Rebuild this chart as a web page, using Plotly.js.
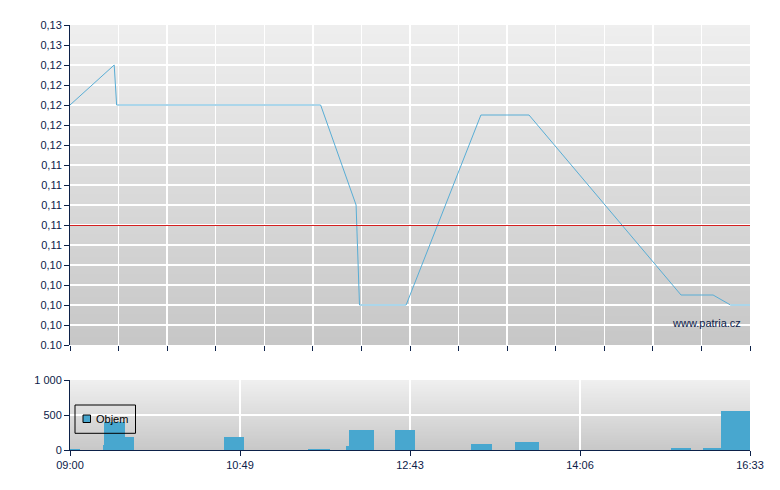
<!DOCTYPE html>
<html><head><meta charset="utf-8">
<script src="https://cdn.plot.ly/plotly-3.0.1.min.js"></script>
<style>html,body{margin:0;padding:0;background:#fff}#chart{width:780px;height:490px}</style>
</head><body><div id="chart"></div>
<script>
// Price line (x in grid-column units 0..14, y price)
const priceX = [0, 0.91, 0.96, 5.16, 5.89, 5.96, 6.92, 8.46, 9.45, 12.58, 13.24, 13.60, 14];
const priceY = [0.120, 0.124, 0.120, 0.120, 0.110, 0.100, 0.100, 0.119, 0.119, 0.101, 0.101, 0.100, 0.100];
const prevClose = 0.108;

// Volume bars: interval start/end and volume
const volStart = [0, 0.679, 0.706, 1.132, 3.171, 4.900, 5.682, 5.750, 6.691, 8.256, 9.162, 12.374, 13.033, 13.403];
const volEnd   = [0.206, 0.706, 1.132, 1.318, 3.582, 5.353, 5.750, 6.259, 7.103, 8.688, 9.656, 12.785, 13.403, 14];
const volume   = [15, 70, 405, 190, 190, 15, 60, 290, 290, 90, 120, 33, 33, 560];

// Tick labels
const priceTickVals = [0.096,0.098,0.100,0.102,0.104,0.106,0.108,0.110,0.112,0.114,0.116,0.118,0.120,0.122,0.124,0.126,0.128];
const priceTickText = ['0.10','0,10','0,10','0,10','0,10','0,11','0,11','0,11','0,11','0,11','0,12','0,12','0,12','0,12','0,12','0,13','0,13'];
const timeTickVals = [0, 3.5, 7, 10.5, 14];
const timeTickText = ['09:00','10:49','12:43','14:06','16:33'];
const volTickVals = [0, 500, 1000];
const volTickText = ['0','500','1 000'];

function gradient(top, bottom){
  const c = document.createElement('canvas'); c.width = 2; c.height = 256;
  const g = c.getContext('2d'); const gr = g.createLinearGradient(0,0,0,256);
  gr.addColorStop(0, top); gr.addColorStop(1, bottom);
  g.fillStyle = gr; g.fillRect(0,0,2,256); return c.toDataURL('image/png');
}
const navy = '#0c2149';
const tickFont = {family:'Liberation Sans, Arial, sans-serif', size:11, color:navy};

const traces = [
  {type:'scatter', mode:'lines', x:priceX, y:priceY, xaxis:'x2', yaxis:'y2',
   line:{color:'#58add5', width:1}, showlegend:false, hoverinfo:'skip'},
  {type:'bar', x:volStart.map((s,i)=>(s+volEnd[i])/2), width:volStart.map((s,i)=>volEnd[i]-s),
   y:volume, xaxis:'x', yaxis:'y', marker:{color:'#48a7cf', line:{width:0}}, name:'Objem', showlegend:false, hoverinfo:'skip'}
];

const layout = {
  width:780, height:490, margin:{l:70, r:30, t:25, b:40},
  paper_bgcolor:'#ffffff', plot_bgcolor:'rgba(0,0,0,0)', bargap:0,
  xaxis:{domain:[0,1], anchor:'y', range:[0,14], tickmode:'array', tickvals:timeTickVals, ticktext:timeTickText,
    showgrid:true, gridcolor:'#ffffff', gridwidth:1.5, zeroline:false, showline:true, linecolor:navy, linewidth:1,
    ticks:'outside', ticklen:5, tickcolor:navy, tickfont:tickFont, fixedrange:true},
  yaxis:{domain:[0, 70/425], anchor:'x', range:[0,1000], tickmode:'array', tickvals:volTickVals, ticktext:volTickText,
    showgrid:true, gridcolor:'#ffffff', gridwidth:1.5, zeroline:false, showline:true, linecolor:navy, linewidth:1,
    ticks:'outside', ticklen:5, tickcolor:navy, tickfont:tickFont, fixedrange:true},
  xaxis2:{domain:[0,1], anchor:'y2', range:[0,14], dtick:1, tick0:0, showticklabels:false,
    showgrid:true, gridcolor:'#ffffff', gridwidth:1.5, zeroline:false, showline:false,
    ticks:'outside', ticklen:5, tickcolor:navy, fixedrange:true},
  yaxis2:{domain:[105/425, 1], anchor:'x2', range:[0.096,0.128], tickmode:'array', tickvals:priceTickVals, ticktext:priceTickText,
    showgrid:true, gridcolor:'#ffffff', gridwidth:1.5, zeroline:false, showline:true, linecolor:navy, linewidth:1,
    ticks:'outside', ticklen:5, tickcolor:navy, tickfont:tickFont, fixedrange:true},
  images:[
    {source:gradient('#efefef','#c7c7c7'), xref:'x2 domain', yref:'y2 domain', x:0, y:1, sizex:1, sizey:1,
     sizing:'stretch', xanchor:'left', yanchor:'top', layer:'below'},
    {source:gradient('#f0f0f0','#c8c8c8'), xref:'x domain', yref:'y domain', x:0, y:1, sizex:1, sizey:1,
     sizing:'stretch', xanchor:'left', yanchor:'top', layer:'below'}
  ],
  shapes:[
    {type:'line', xref:'x2 domain', yref:'y2', ysizemode:'pixel', yanchor:prevClose, x0:0, x1:1, y0:-0.5, y1:-0.5,
     line:{color:'#d42020', width:1}},
    {type:'rect', xref:'paper', yref:'paper', x0:5/680, x1:65.5/680, y0:(450-433.3)/425, y1:45/425, line:{color:'#000000', width:1}, fillcolor:'rgba(0,0,0,0)'},
    {type:'rect', xref:'paper', yref:'paper', x0:13/680, x1:20.5/680, y0:(450-422.5)/425, y1:(450-415)/425, line:{color:'#000000', width:1}, fillcolor:'#48a7cf'}
  ],
  annotations:[
    {text:'www.patria.cz', xref:'x2 domain', yref:'y2 domain', x:0.99, y:22/320, xanchor:'right', yanchor:'middle',
     showarrow:false, font:{family:'Liberation Sans, Arial, sans-serif', size:11, color:navy}},
    {text:'Objem', xref:'paper', yref:'paper', x:24/680, y:(450-419)/425, xanchor:'left', yanchor:'middle',
     showarrow:false, font:{family:'Liberation Sans, Arial, sans-serif', size:11, color:'#000000'}}
  ]
};
Plotly.newPlot('chart', traces, layout, {staticPlot:true, displayModeBar:false});
</script></body></html>
